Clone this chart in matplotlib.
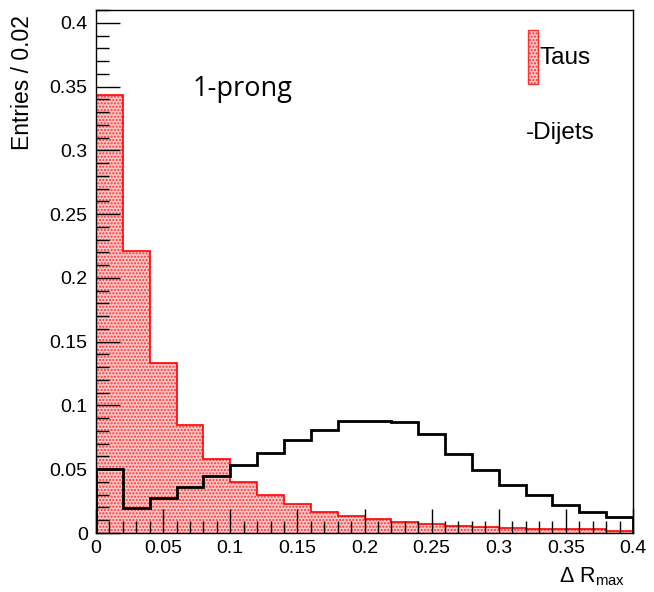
import numpy as np
import matplotlib
matplotlib.use("Agg")
import matplotlib.pyplot as plt
from matplotlib.ticker import MultipleLocator, FuncFormatter
from matplotlib.patches import Rectangle

# Data
bin_edges = np.round(np.arange(0, 0.4001, 0.02), 4)
taus = [0.343, 0.221, 0.133, 0.085, 0.058, 0.040, 0.030, 0.0224, 0.0167, 0.0133,
        0.0107, 0.0089, 0.0068, 0.0055, 0.0045, 0.0037, 0.0031, 0.0030, 0.0028, 0.0018]
dijets = [0.050, 0.0198, 0.0276, 0.036, 0.0448, 0.0536, 0.063, 0.073, 0.081, 0.0875,
          0.0875, 0.087, 0.078, 0.0617, 0.049, 0.0375, 0.0295, 0.0219, 0.0162, 0.0123]
xticks = [0, 0.05, 0.1, 0.15, 0.2, 0.25, 0.3, 0.35, 0.4]
yticks = [0, 0.05, 0.1, 0.15, 0.2, 0.25, 0.3, 0.35, 0.4]

plt.rcParams['font.family'] = ['Liberation Sans', 'DejaVu Sans']
plt.rcParams['mathtext.fontset'] = 'custom'
plt.rcParams['mathtext.rm'] = 'Liberation Sans'
plt.rcParams['mathtext.it'] = 'Liberation Sans:italic'
W, H = 654, 592
fig = plt.figure(figsize=(W/100, H/100), dpi=100)
ax = fig.add_axes([96/W, 1-533/H, (633-96)/W, (533-10)/H])

ax.stairs(taus, bin_edges, fill=True, facecolor='#fac8c8', edgecolor='#ff3030',
          hatch='.....', linewidth=0, zorder=1)
ax.stairs(taus, bin_edges, color='#ff0000', linewidth=1.2, zorder=2)
ax.stairs(dijets, bin_edges, color='black', linewidth=2.0, zorder=3)

ax.set_xlim(0, 0.4)
ax.set_ylim(0, 0.41)
ax.xaxis.set_minor_locator(MultipleLocator(0.01))
ax.yaxis.set_minor_locator(MultipleLocator(0.01))
ax.set_xticks(xticks)
ax.set_yticks(yticks)
fmt = FuncFormatter(lambda v, p: '%g' % round(v, 3))
ax.xaxis.set_major_formatter(fmt)
ax.yaxis.set_major_formatter(fmt)
ax.tick_params(which='major', direction='in', length=17, width=1, labelsize=14,
               top=False, right=False)
ax.tick_params(which='minor', direction='in', length=9, width=1, top=False, right=False)
ax.tick_params(axis='x', pad=5)
ax.tick_params(axis='y', pad=6)
ax.set_axisbelow(False)
for s in ax.spines.values():
    s.set_linewidth(1.0)
    s.set_zorder(5)

ax.set_ylabel('Entries / 0.02', fontsize=16.5, loc='top', labelpad=11)
ax.yaxis.label.set_y(1.0 - 5/523)
ax.set_xlabel('Δ R$_{\\mathrm{max}}$', fontsize=15.5, loc='right', labelpad=6)
ax.xaxis.label.set_x(1.0 - 8/537)

ax.text(0.18, 0.848, '1-prong', transform=ax.transAxes, fontsize=19.5,
        family=['Open Sans', 'DejaVu Sans'], va='center', ha='left')

# legend
ax.add_patch(Rectangle(((528-96)/537, 1-(84-10)/523), 10/537, 54/523,
                       transform=ax.transAxes, facecolor='#fac8c8', edgecolor='#ff3030',
                       hatch='.....', linewidth=1.0, clip_on=False, zorder=6))
ax.text((539-96)/537, 1-(58-10)/523, 'Taus', transform=ax.transAxes, fontsize=17.5,
        va='center', ha='left')
ax.text((526-96)/537, 1-(133-10)/523, '-Dijets', transform=ax.transAxes, fontsize=17.5,
        va='center', ha='left')

fig.savefig('out.png', dpi=100)
